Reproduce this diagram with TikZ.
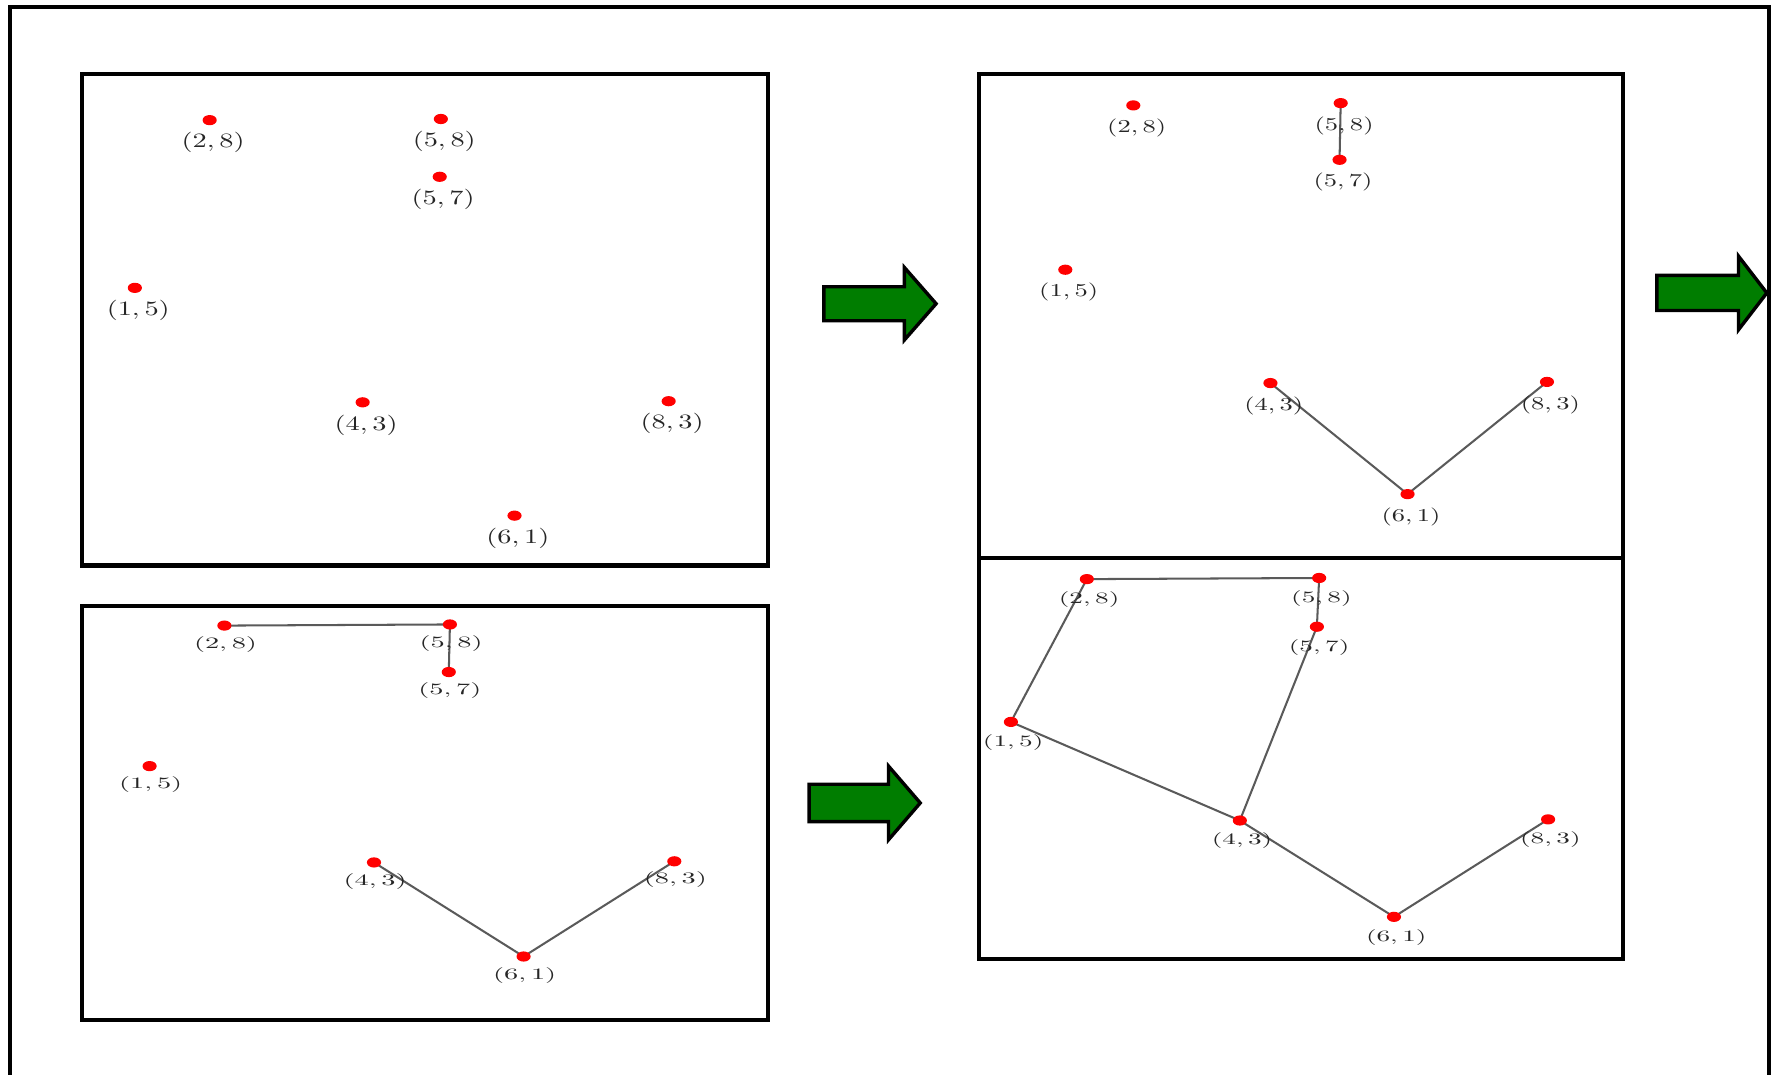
\documentclass[tikz,border=0pt]{standalone}
\usepackage{graphicx}
\usetikzlibrary{shapes.geometric}

\definecolor{arrowgreen}{RGB}{0,125,0}
\definecolor{edgegray}{RGB}{90,90,90}

\pgfdeclarelayer{paper}
\pgfdeclarelayer{links}
\pgfsetlayers{paper,links,main}

% One panel of the seven points: #1 name prefix, #2/#3 label x/y scale,
% #4 label offset from its dot, #5 list name/x/y/first/second
\newcommand\drawpanel[5]{%
  \foreach \n/\px/\py/\u/\v in {#5} {
    \node[dot] (#1\n) at (\px,\py) {};
    \node[ptlabel, #4] (#1\n-t) at (\px,\py) {\scalebox{#2}[#3]{$(\u,\v)$}};
  }}

\begin{document}
\begin{tikzpicture}[x=0.5pt, y=-0.5pt,
  dot/.style={ellipse, fill=red, draw=none, inner sep=0pt,
              minimum width=6.25pt, minimum height=4.5pt},
  ptlabel/.style={inner sep=0pt, font=\fontsize{10}{12}\selectfont, text=black!85},
  link/.style={draw=edgegray, line width=0.9pt},
  boxframe/.style={draw=black, line width=1.8pt},
  blockarrow/.style={draw=black, fill=arrowgreen, line width=1.5pt, line join=miter}]

\useasboundingbox (0,0) rectangle (1568,948);
\begin{pgfonlayer}{paper}
  \fill[white] (0,0) rectangle (1568,948);
\end{pgfonlayer}

% outer frame (its bottom edge lies below the page)
\draw[boxframe] (8.5,956) -- (8.5,6) -- (1561,6) -- (1561,956);

% the four panels
\draw[boxframe] (72,65) rectangle (678,499);
\draw[boxframe] (72,535) rectangle (678,900);
\draw[boxframe] (864,65) rectangle (1432,492);
\draw[boxframe] (864,492) rectangle (1432,846);

% points in each panel
\drawpanel{A}{1.25}{0.9}{xshift=1.5pt, yshift=-10pt}{a/185/106/2/8, b/389/105/5/8, c/388/156/5/7, d/119/254/1/5, e/320/355/4/3, f/590/354/8/3, g/454/455/6/1}
\drawpanel{B}{1.25}{0.7}{xshift=0.5pt, yshift=-8.25pt}{a/198/552/2/8, b/397/551/5/8, c/396/593/5/7, d/132/676/1/5, e/330/761/4/3, f/595/760/8/3, g/462/844/6/1}
\drawpanel{C}{1.17}{0.8}{xshift=1.5pt, yshift=-10pt}{a/1000/93/2/8, b/1183/91/5/8, c/1182/141/5/7, d/940/238/1/5, e/1121/338/4/3, f/1365/337/8/3, g/1242/436/6/1}
\drawpanel{D}{1.2}{0.7}{xshift=1pt, yshift=-9pt}{a/959/511/2/8, b/1164/510/5/8, c/1162/553/5/7, d/892/637/1/5, e/1094/724/4/3, f/1366/723/8/3, g/1230/809/6/1}

% tree edges, kept under the dots
\begin{pgfonlayer}{links}
  \draw[link] (Ba.center) -- (Bb.center);
  \draw[link] (Bb.center) -- (Bc.center);
  \draw[link] (Be.center) -- (Bg.center);
  \draw[link] (Bg.center) -- (Bf.center);

  \draw[link] (Cb.center) -- (Cc.center);
  \draw[link] (Ce.center) -- (Cg.center);
  \draw[link] (Cg.center) -- (Cf.center);

  \draw[link] (Da.center) -- (Db.center);
  \draw[link] (Db.center) -- (Dc.center);
  \draw[link] (Da.center) -- (Dd.center);
  \draw[link] (Dd.center) -- (De.center);
  \draw[link] (Dc.center) -- (De.center);
  \draw[link] (De.center) -- (Dg.center);
  \draw[link] (Dg.center) -- (Df.center);
\end{pgfonlayer}

% green block arrows between the steps
\draw[blockarrow] (727,253) -- (798,253) -- (798,236) -- (826,268)
  -- (798,300) -- (798,283) -- (727,283) -- cycle;
\draw[blockarrow] (1462,243) -- (1534,243) -- (1534,226) -- (1559,258.5)
  -- (1534,291) -- (1534,274) -- (1462,274) -- cycle;
\draw[blockarrow] (714,692) -- (784,692) -- (784,676) -- (812,708.5)
  -- (784,741) -- (784,725) -- (714,725) -- cycle;
\end{tikzpicture}
\end{document}
